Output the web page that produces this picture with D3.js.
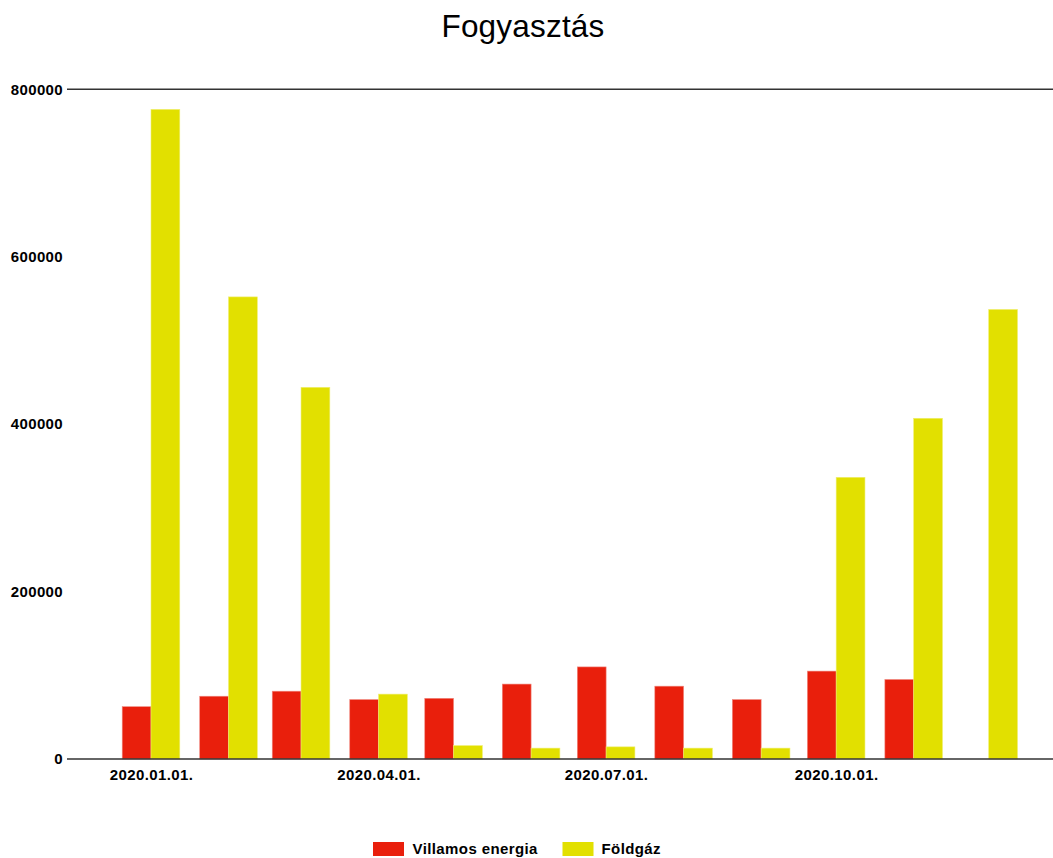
<!DOCTYPE html>
<html>
<head>
<meta charset="utf-8">
<script src="https://cdn.jsdelivr.net/npm/d3@7"></script>
<style>
  html, body { margin: 0; padding: 0; background: #fff; }
  svg { display: block; font-family: "Liberation Sans", Arial, sans-serif; }
</style>
</head>
<body>
<svg id="chart" width="1053" height="858"></svg>
<script>
// ---- data ----
const months = ["2020-01-01","2020-02-01","2020-03-01","2020-04-01","2020-05-01","2020-06-01",
                "2020-07-01","2020-08-01","2020-09-01","2020-10-01","2020-11-01","2020-12-01"];
const villamos = [62500, 75000, 81000, 71000, 72500, 89500, 110000, 87000, 71000, 105000, 95000, null];
const foldgaz  = [776000, 552000, 444000, 77500, 16000, 13000, 14500, 13000, 13000, 336500, 407000, 537000];
const seriesNames = ["Villamos energia", "Földgáz"];
const xTickDates = ["2020-01-01","2020-04-01","2020-07-01","2020-10-01"];
const yTicks = [0, 200000, 400000, 600000, 800000];
const chartTitle = "Fogyasztás";

(function () {
// ---- layout ----
const svg = d3.select("#chart");
const mLeft = 67, mRight = 1053, mTop = 89.3, mBottom = 759;
const colors = ["#e91f0c", "#e2e000"];
const barW = 28.8;

const parse = d3.utcParse("%Y-%m-%d");
const dates = months.map(parse);

const x = d3.scaleUtc()
  .domain([parse("2020-01-01"), parse("2020-12-01")])
  .range([151, 988.7]);
const y = d3.scaleLinear().domain([0, 800000]).range([mBottom, mTop]);

// title
svg.append("text")
  .attr("x", 523).attr("y", 37)
  .attr("text-anchor", "middle")
  .attr("font-size", 31.5)
  .attr("letter-spacing", 0.2)
  .attr("fill", "#000")
  .text(chartTitle);

// bars
const data = dates.map((d, i) => ({date: d, vals: [villamos[i], foldgaz[i]]}));
const g = svg.append("g");
data.forEach(d => {
  d.vals.forEach((v, s) => {
    if (v == null) return;
    const cx = x(d.date);
    g.append("rect")
      .attr("x", s === 0 ? cx - barW : cx)
      .attr("y", y(v))
      .attr("width", barW)
      .attr("height", y(0) - y(v))
      .attr("fill", colors[s])
      .attr("stroke", s === 0 ? "#f08a80" : "#eeee70")
      .attr("stroke-width", 0.6);
  });
});

// y axis: labels only, lines at 0 and max
const yAxis = d3.axisLeft(y).tickValues(yTicks).tickSize(0).tickPadding(4).tickFormat(d3.format("d"));
const yg = svg.append("g").attr("transform", `translate(${mLeft},0)`).call(yAxis);
yg.select(".domain").remove();
yg.selectAll("text")
  .attr("font-size", 15).attr("font-weight", "bold").attr("fill", "#000")
  .attr("letter-spacing", 0.35)
  .attr("font-family", "Liberation Sans, Arial, sans-serif");

[0, 800000].forEach(v => {
  svg.append("line")
    .attr("x1", mLeft).attr("x2", mRight)
    .attr("y1", y(v)).attr("y2", y(v))
    .attr("stroke", "#333").attr("stroke-width", 1.4);
});

// x axis
const xAxis = d3.axisBottom(x).tickValues(xTickDates.map(parse)).tickSize(0).tickPadding(10)
  .tickFormat(d3.utcFormat("%Y.%m.%d."));
const xg = svg.append("g").attr("transform", `translate(0,${mBottom})`).call(xAxis);
xg.select(".domain").remove();
xg.selectAll("text")
  .attr("font-size", 15).attr("font-weight", "bold").attr("fill", "#000")
  .attr("letter-spacing", 0.4)
  .attr("font-family", "Liberation Sans, Arial, sans-serif");

// legend
const legendItems = [
  {name: seriesNames[0], color: colors[0], rx: 373, tx: 412.5},
  {name: seriesNames[1], color: colors[1], rx: 562.5, tx: 601.5}
];
const lg = svg.append("g");
legendItems.forEach(it => {
  lg.append("rect").attr("x", it.rx).attr("y", 842).attr("width", 31).attr("height", 14).attr("fill", it.color);
  lg.append("text").attr("x", it.tx).attr("y", 854).attr("font-size", 15).attr("font-weight", "bold")
    .attr("letter-spacing", 0.4)
    .attr("fill", "#000").text(it.name);
});
})();
</script>
</body>
</html>
